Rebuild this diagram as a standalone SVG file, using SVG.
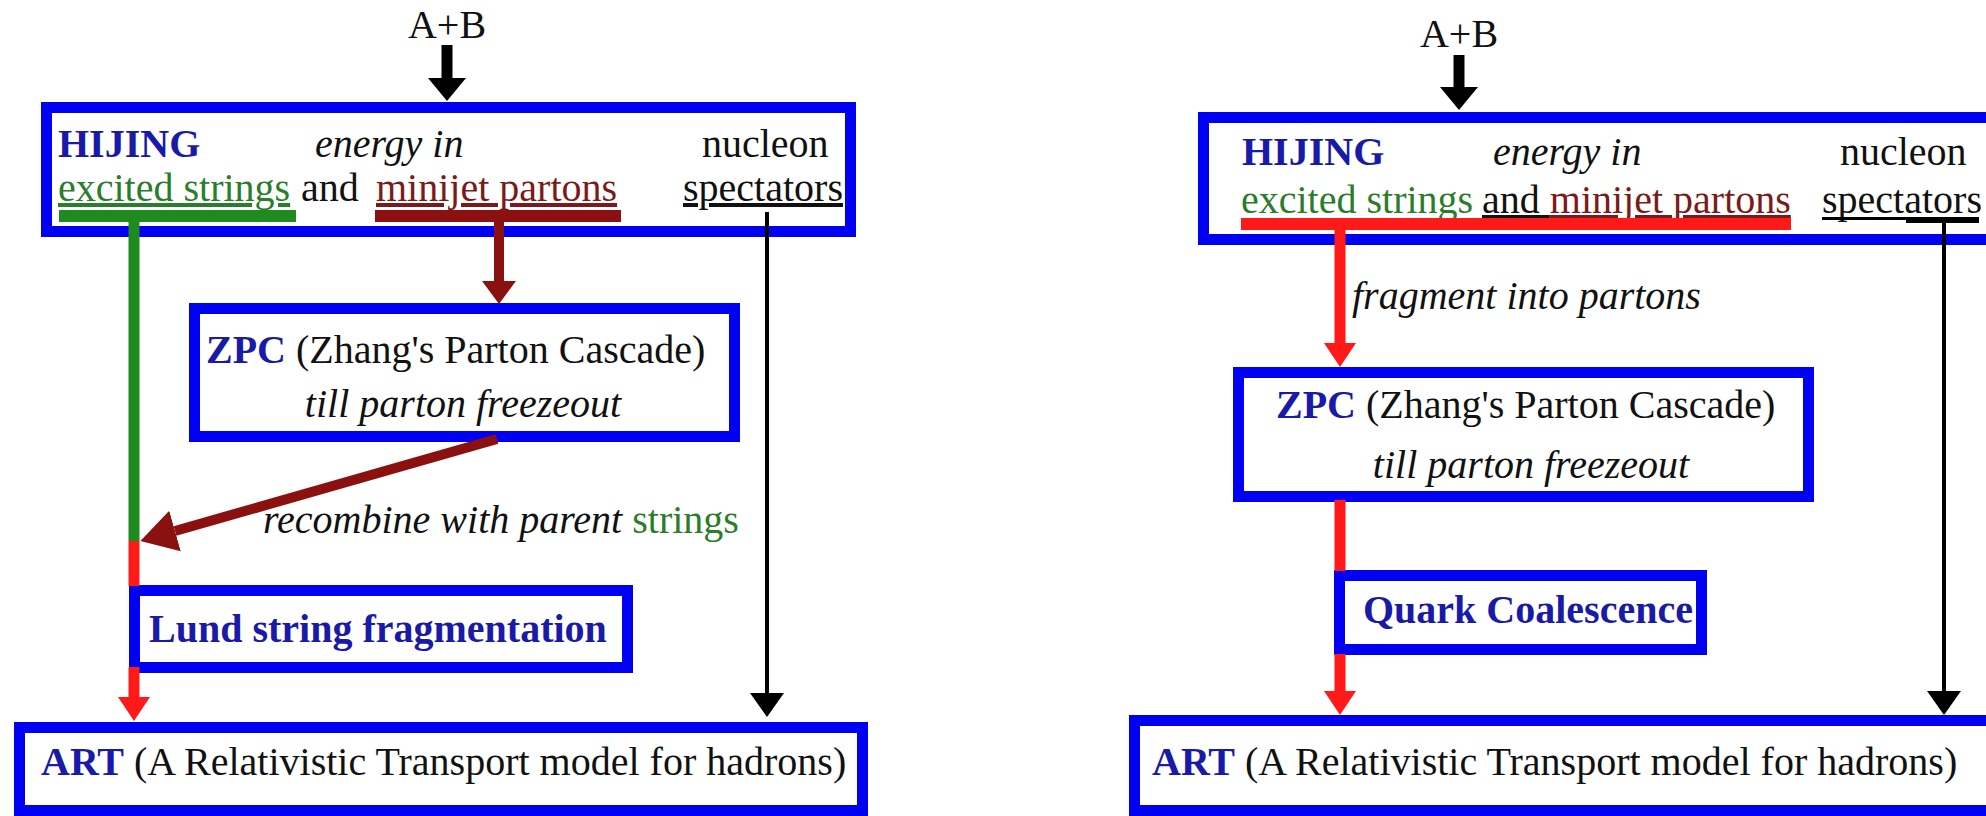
<svg xmlns="http://www.w3.org/2000/svg" width="1986" height="816" viewBox="0 0 1986 816">
<style>
  text { font-family: "Liberation Serif", "Times New Roman", serif; font-size: 40px; fill: #111; }
  .box { fill: #fff; stroke: #0000f2; stroke-width: 11; }
  .bl { font-weight: bold; fill: #1a1aa8; }
  .it { font-style: italic; }
  .gr { fill: #2a7d2a; }
  .dr { fill: #7a1a1a; }
  .ul { text-decoration: underline; }
  .k { stroke: #000; fill: none; }
  .r { stroke: #ff1a1a; stroke-width: 11; fill: none; }
  .g { stroke: #1f8a1f; stroke-width: 11; fill: none; }
  .d { stroke: #8b1010; stroke-width: 10; fill: none; }
</style>
<defs>
  <marker id="hk" viewBox="0 -20 26 40" refX="0" refY="0" markerWidth="26" markerHeight="40" markerUnits="userSpaceOnUse" orient="auto">
    <path d="M0,-17 L24,0 L0,17 z" fill="#000"/>
  </marker>
  <marker id="hk2" viewBox="0 -20 26 40" refX="0" refY="0" markerWidth="26" markerHeight="40" markerUnits="userSpaceOnUse" orient="auto">
    <path d="M0,-19 L23,0 L0,19 z" fill="#000"/>
  </marker>
  <marker id="hr" viewBox="0 -20 26 40" refX="0" refY="0" markerWidth="26" markerHeight="40" markerUnits="userSpaceOnUse" orient="auto">
    <path d="M0,-16 L24,0 L0,16 z" fill="#ff1a1a"/>
  </marker>
  <marker id="hd" viewBox="0 -20 26 40" refX="0" refY="0" markerWidth="26" markerHeight="40" markerUnits="userSpaceOnUse" orient="auto">
    <path d="M0,-17 L23,0 L0,17 z" fill="#8b1010"/>
  </marker>
  <marker id="hd2" viewBox="0 -24 40 48" refX="0" refY="0" markerWidth="40" markerHeight="48" markerUnits="userSpaceOnUse" orient="auto">
    <path d="M0,-21 L36,0 L0,21 z" fill="#8b1010"/>
  </marker>
</defs>
<rect width="1986" height="816" fill="#fff"/>

<!-- LEFT DIAGRAM NODES -->
<g id="left-ab"><text x="447" y="38" text-anchor="middle">A+B</text></g>
<g id="left-hijing">
  <rect class="box" x="46.5" y="107.5" width="804" height="124"/>
  <text x="58" y="157" class="bl">HIJING</text>
  <text x="315" y="157" class="it">energy in</text>
  <text x="702" y="157">nucleon</text>
  <text y="201"><tspan x="58" class="gr ul">excited strings</tspan><tspan x="301">and</tspan><tspan x="376" class="dr ul">minijet partons</tspan></text>
  <text x="683" y="201" class="ul">spectators</text>
</g>
<g id="left-zpc">
  <rect class="box" x="194.5" y="308.5" width="540" height="128"/>
  <text x="206" y="363"><tspan class="bl">ZPC</tspan> (Zhang's Parton Cascade)</text>
  <text x="463" y="417" class="it" text-anchor="middle">till parton freezeout</text>
</g>
<g id="left-lund">
  <rect class="box" x="134.5" y="590.5" width="493" height="77"/>
  <text x="149" y="642" class="bl">Lund string fragmentation</text>
</g>
<g id="left-art">
  <rect class="box" x="19.5" y="727.5" width="843" height="83"/>
  <text x="41" y="775"><tspan class="bl">ART</tspan> (A Relativistic Transport model for hadrons)</text>
</g>
<g id="left-recombine-label">
  <text x="263" y="533"><tspan class="it">recombine with parent </tspan><tspan class="gr">strings</tspan></text>
</g>

<!-- RIGHT DIAGRAM NODES -->
<g id="right-ab"><text x="1459" y="47" text-anchor="middle">A+B</text></g>
<g id="right-hijing">
  <rect class="box" x="1203.5" y="117.5" width="800" height="122"/>
  <text x="1242" y="165" class="bl">HIJING</text>
  <text x="1493" y="165" class="it">energy in</text>
  <text x="1840" y="165">nucleon</text>
  <text y="213"><tspan x="1241" class="gr">excited strings</tspan><tspan x="1482" class="ul">and </tspan><tspan class="dr ul">minijet partons</tspan></text>
  <text x="1822" y="213">spectators</text>
</g>
<g id="right-zpc">
  <rect class="box" x="1238.5" y="372.5" width="570" height="124"/>
  <text x="1276" y="418"><tspan class="bl">ZPC</tspan> (Zhang's Parton Cascade)</text>
  <text x="1531" y="478" class="it" text-anchor="middle">till parton freezeout</text>
</g>
<g id="right-quark">
  <rect class="box" x="1339.5" y="575.5" width="362" height="74"/>
  <text x="1363" y="623" class="bl">Quark Coalescence</text>
</g>
<g id="right-art">
  <rect class="box" x="1134.5" y="720.5" width="900" height="90"/>
  <text x="1152" y="775"><tspan class="bl">ART</tspan> (A Relativistic Transport model for hadrons)</text>
</g>
<g id="right-fragment-label">
  <text x="1352" y="309" class="it">fragment into partons</text>
</g>

<!-- CONNECTORS -->
<g id="connectors">
  <!-- left -->
  <line class="k" x1="447" y1="45" x2="447" y2="78" stroke-width="11" marker-end="url(#hk2)"/>
  <rect x="59" y="210" width="237" height="12" fill="#1f8a1f"/>
  <rect x="375" y="210" width="246" height="12" fill="#8b1010"/>
  <line class="g" x1="134" y1="216" x2="134" y2="541"/>
  <line class="r" x1="134" y1="541" x2="134" y2="586"/>
  <line class="r" x1="134" y1="667" x2="134" y2="697" marker-end="url(#hr)"/>
  <line class="d" x1="499" y1="216" x2="499" y2="281" marker-end="url(#hd)"/>
  <line class="d" x1="497" y1="439" x2="175" y2="531" stroke-width="12" marker-end="url(#hd2)"/>
  <line class="k" x1="767" y1="212" x2="767" y2="693" stroke-width="4" marker-end="url(#hk)"/>
  <!-- right -->
  <line class="k" x1="1459" y1="55" x2="1459" y2="87" stroke-width="11" marker-end="url(#hk2)"/>
  <rect x="1241" y="218" width="550" height="12" fill="#ff1a1a"/>
  <line class="r" x1="1340" y1="224" x2="1340" y2="343" marker-end="url(#hr)"/>
  <line class="r" x1="1340" y1="500" x2="1340" y2="571"/>
  <line class="r" x1="1340" y1="654" x2="1340" y2="691" marker-end="url(#hr)"/>
  <rect x="1822" y="217" width="157" height="3" fill="#000"/>
  <rect x="1906" y="217" width="73" height="6" fill="#000"/>
  <line class="k" x1="1944" y1="221" x2="1944" y2="691" stroke-width="4" marker-end="url(#hk)"/>
</g>
</svg>
